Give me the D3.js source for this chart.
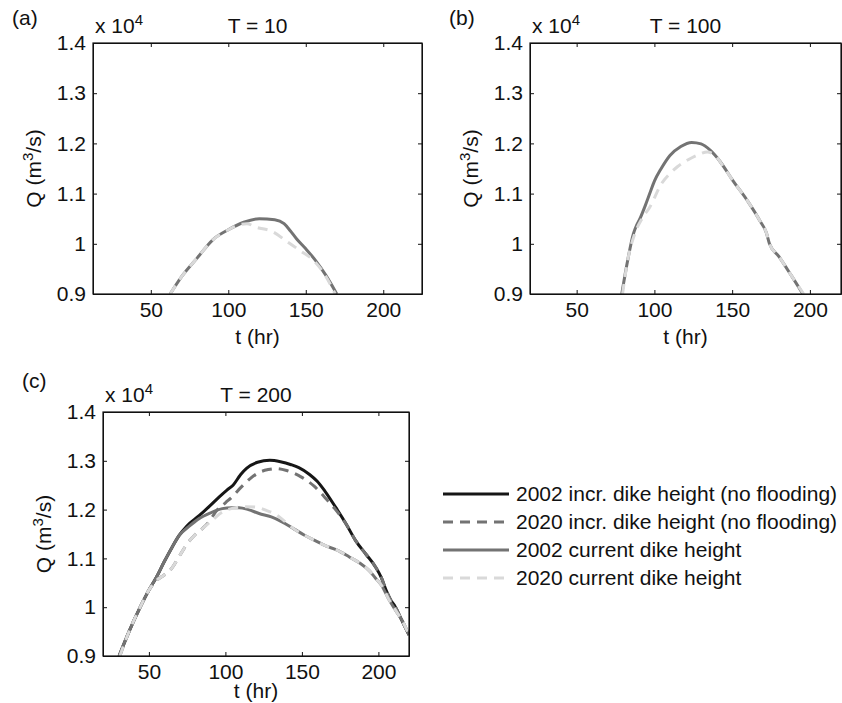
<!DOCTYPE html>
<html>
<head>
<meta charset="utf-8">
<script src="https://cdn.jsdelivr.net/npm/d3@7"></script>
<style>
body { margin: 0; background: #fff; }
text { font-family: "Liberation Sans", Arial, Helvetica, sans-serif; fill: #111; }
</style>
</head>
<body>
<svg id="chart" width="842" height="703"></svg>
<script>
// tick values shared by all panels
var yTicks = [0.9, 1, 1.1, 1.2, 1.3, 1.4]
var xTicks = [50, 100, 150, 200]

var seriesNames = ['2002 incr. dike height (no flooding)', '2020 incr. dike height (no flooding)',
    '2002 current dike height', '2020 current dike height']
var seriesColors = ['#161616', '#737373', '#737373', '#d9d9d9']
var seriesDash = [null, '10,7', null, '10,7']

// (a) T = 10, discharge in units of 10^4 m3/s
var a_t_2002cur = [62.5, 70, 80, 90, 100, 110, 120, 130, 136, 140, 144, 150, 156, 163, 170]
var a_q_2002cur = [0.90, 0.935, 0.972, 1.008, 1.028, 1.043, 1.050, 1.048, 1.040, 1.026, 1.010, 0.990, 0.968, 0.937, 0.90]
var a_t_2020cur = [62.5, 70, 80, 90, 100, 107, 112, 118, 128, 139, 147, 155, 162, 169]
var a_q_2020cur = [0.90, 0.935, 0.972, 1.008, 1.028, 1.038, 1.040, 1.033, 1.025, 1.002, 0.985, 0.967, 0.940, 0.90]

// (b) T = 100
var b_t_2002cur = [79, 83, 86.5, 88, 91, 94, 97, 100, 104, 110, 117, 124, 130, 136, 142, 150, 160, 168, 172, 174, 180, 188, 195.5]
var b_q_2002cur = [0.90, 0.97, 1.02, 1.033, 1.052, 1.075, 1.10, 1.125, 1.148, 1.176, 1.194, 1.202, 1.199, 1.186, 1.165, 1.128, 1.085, 1.045, 1.022, 1.000, 0.975, 0.937, 0.90]
var b_t_2020cur = [79.5, 83, 87.5, 92, 97, 104.6, 110, 115, 122, 128.6, 134, 139, 145, 150, 160, 168, 172, 174, 180, 188, 196]
var b_q_2020cur = [0.90, 0.97, 1.021, 1.05, 1.073, 1.12, 1.14, 1.154, 1.168, 1.178, 1.183, 1.176, 1.151, 1.128, 1.085, 1.045, 1.022, 1.000, 0.975, 0.937, 0.90]

// (c) T = 200
var c_t_2002inc = [30.5, 37, 44, 50, 55, 60, 65, 70, 75, 83, 90, 96, 101, 105, 110, 114, 121, 129, 136, 143, 148, 155, 160, 165, 172, 179, 185, 192, 198, 202, 205, 208, 211, 215, 220]
var c_q_2002inc = [0.90, 0.95, 0.998, 1.035, 1.062, 1.093, 1.122, 1.148, 1.167, 1.188, 1.208, 1.226, 1.24, 1.25, 1.272, 1.285, 1.297, 1.301, 1.298, 1.292, 1.286, 1.272, 1.258, 1.238, 1.205, 1.17, 1.137, 1.108, 1.083, 1.06, 1.035, 1.015, 1.001, 0.975, 0.943]
var c_t_2020inc = [31, 37, 44, 50, 55, 60, 65, 70, 75, 80, 85, 90, 94, 100, 105, 110, 116, 122, 128, 133, 140, 150, 158, 165, 172, 179, 185, 192, 198, 202, 205, 208, 211, 215, 220]
var c_q_2020inc = [0.90, 0.95, 0.998, 1.035, 1.055, 1.066, 1.08, 1.105, 1.13, 1.148, 1.161, 1.178, 1.197, 1.214, 1.228, 1.245, 1.263, 1.276, 1.282, 1.284, 1.28, 1.266, 1.248, 1.225, 1.2, 1.17, 1.137, 1.108, 1.083, 1.06, 1.035, 1.015, 1.001, 0.975, 0.943]
var c_t_2002cur = [30.5, 37, 44, 50, 55, 60, 65, 70, 76, 83, 90, 98, 104, 109, 115, 122, 130, 137, 145, 152, 159, 166, 173, 181, 188, 194, 198, 202, 207, 212, 216, 220]
var c_q_2002cur = [0.90, 0.95, 0.998, 1.035, 1.062, 1.093, 1.122, 1.148, 1.165, 1.182, 1.193, 1.202, 1.204, 1.204, 1.2, 1.192, 1.185, 1.175, 1.16, 1.147, 1.136, 1.125, 1.117, 1.103, 1.09, 1.075, 1.06, 1.045, 1.015, 0.99, 0.97, 0.943]
var c_t_2020cur = [31, 37, 44, 50, 55, 60, 65, 70, 75, 80, 85, 92, 98, 105, 113, 120, 127, 133, 138, 145, 152, 159, 166, 173, 181, 188, 194, 198, 202, 207, 212, 216, 220]
var c_q_2020cur = [0.90, 0.95, 0.998, 1.035, 1.055, 1.066, 1.08, 1.105, 1.13, 1.148, 1.161, 1.18, 1.195, 1.203, 1.206, 1.205, 1.198, 1.19, 1.178, 1.16, 1.147, 1.136, 1.125, 1.117, 1.103, 1.09, 1.075, 1.06, 1.045, 1.015, 0.99, 0.97, 0.943]

function zip(t, q) {
    return t.map(function (d, i) { return { t: d, q: q[i] } })
}

var panels = [
    { key: 'a', T: 10, left: 93, right: 422, top: 43, bottom: 294, xdom: [12.7, 225], tlabel: 50,
      lines: [{ s: 2, d: zip(a_t_2002cur, a_q_2002cur) }, { s: 3, d: zip(a_t_2020cur, a_q_2020cur) }] },
    { key: 'b', T: 100, left: 530, right: 841, top: 43, bottom: 294, xdom: [20, 220], tlabel: 50,
      lines: [{ s: 2, d: zip(b_t_2002cur, b_q_2002cur) }, { s: 3, d: zip(b_t_2020cur, b_q_2020cur) }] },
    { key: 'c', T: 200, left: 103, right: 409, top: 412, bottom: 656, xdom: [20, 220], tlabel: 42,
      lines: [{ s: 0, d: zip(c_t_2002inc, c_q_2002inc) }, { s: 1, d: zip(c_t_2020inc, c_q_2020inc) },
              { s: 2, d: zip(c_t_2002cur, c_q_2002cur) }, { s: 3, d: zip(c_t_2020cur, c_q_2020cur) }] }
]

var svg = d3.select('#chart')
var fs = 21

panels.forEach(function (p) {
    var g = svg.append('g')
    var x = d3.scaleLinear().domain(p.xdom).range([p.left, p.right])
    var y = d3.scaleLinear().domain([0.9, 1.4]).range([p.bottom, p.top])

    g.append('clipPath').attr('id', 'clip-' + p.key)
        .append('rect').attr('x', p.left).attr('y', p.top)
        .attr('width', p.right - p.left).attr('height', p.bottom - p.top)

    var line = d3.line()
        .x(function (d) { return x(d.t) })
        .y(function (d) { return y(d.q) })
        .curve(d3.curveMonotoneX)

    g.append('g').attr('clip-path', 'url(#clip-' + p.key + ')')
        .selectAll('path').data(p.lines).enter().append('path')
        .attr('d', function (d) { return line(d.d) })
        .attr('fill', 'none')
        .attr('stroke', function (d) { return seriesColors[d.s] })
        .attr('stroke-width', 3)
        .attr('stroke-dasharray', function (d) { return seriesDash[d.s] })

    // axes, MATLAB-style box with inward ticks
    var tl = 4
    g.append('g').attr('transform', 'translate(0,' + p.bottom + ')')
        .call(d3.axisBottom(x).tickValues(xTicks).tickSizeInner(-tl).tickSizeOuter(0).tickPadding(8))
    g.append('g').attr('transform', 'translate(0,' + p.top + ')')
        .call(d3.axisTop(x).tickValues(xTicks).tickSizeInner(-tl).tickSizeOuter(0).tickFormat(''))
    g.append('g').attr('transform', 'translate(' + p.left + ',0)')
        .call(d3.axisLeft(y).tickValues(yTicks).tickSizeInner(-tl).tickSizeOuter(0).tickPadding(7)
            .tickFormat(function (d) { return d3.format('~g')(d) }))
    g.append('g').attr('transform', 'translate(' + p.right + ',0)')
        .call(d3.axisRight(y).tickValues(yTicks).tickSizeInner(-tl).tickSizeOuter(0).tickFormat(''))
    g.selectAll('.domain').attr('stroke', '#111')
    g.selectAll('.tick line').attr('stroke', '#111')
    g.selectAll('.tick text').attr('font-size', fs).attr('font-family', null).attr('fill', '#111')

    g.append('rect').attr('x', p.left).attr('y', p.top)
        .attr('width', p.right - p.left).attr('height', p.bottom - p.top)
        .attr('fill', 'none').attr('stroke', '#111').attr('stroke-width', 1.2)

    // texts
    var mid = (p.left + p.right) / 2
    g.append('text').attr('x', mid).attr('y', p.bottom + p.tlabel).attr('text-anchor', 'middle')
        .attr('font-size', fs).text('t (hr)')
    var yl = g.append('text').attr('transform', 'translate(' + (p.left - 52) + ',' + ((p.top + p.bottom) / 2) + ') rotate(-90)')
        .attr('text-anchor', 'middle').attr('font-size', fs)
    yl.append('tspan').text('Q (m')
    yl.append('tspan').attr('font-size', 15).attr('dy', -8).text('3')
    yl.append('tspan').attr('dy', 8).text('/s)')

    var ex = g.append('text').attr('x', p.left + 2).attr('y', p.top - 10).attr('font-size', fs)
    ex.append('tspan').text('x 10')
    ex.append('tspan').attr('font-size', 15).attr('dy', -8).text('4')
    g.append('text').attr('x', mid).attr('y', p.top - 10).attr('text-anchor', 'middle')
        .attr('font-size', fs).text('T = ' + p.T)
})

// panel letters
var letters = [['(a)', 12, 25], ['(b)', 449, 25], ['(c)', 22, 388]]
svg.selectAll('.letter').data(letters).enter().append('text')
    .attr('x', function (d) { return d[1] }).attr('y', function (d) { return d[2] })
    .attr('font-size', fs).text(function (d) { return d[0] })

// legend
var leg = svg.append('g')
var ly = d3.scaleLinear().domain([0, 3]).range([494, 578])
leg.selectAll('line').data(seriesNames).enter().append('line')
    .attr('x1', 443).attr('x2', 509)
    .attr('y1', function (d, i) { return ly(i) }).attr('y2', function (d, i) { return ly(i) })
    .attr('stroke', function (d, i) { return seriesColors[i] })
    .attr('stroke-width', 3)
    .attr('stroke-dasharray', function (d, i) { return seriesDash[i] })
leg.selectAll('text').data(seriesNames).enter().append('text')
    .attr('x', 516).attr('y', function (d, i) { return ly(i) + 7 })
    .attr('font-size', fs).text(function (d) { return d })
</script>
</body>
</html>
